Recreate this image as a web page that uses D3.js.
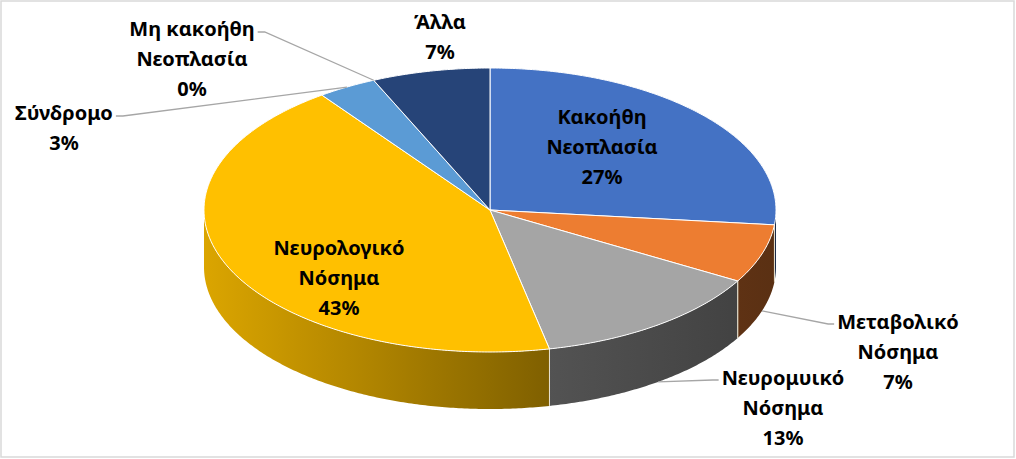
<!DOCTYPE html>
<html>
<head>
<meta charset="utf-8">
<script src="https://cdn.jsdelivr.net/npm/d3@7"></script>
<style>
  html, body { margin: 0; padding: 0; background: #fff; }
  svg { display: block; }
  .lbl { font-family: "Noto Sans", sans-serif; font-weight: bold; font-size: 20px; fill: #000; }
</style>
</head>
<body>
<div id="chart"></div>
<script>
// Pie data (counts), clockwise from 12 o'clock
const categories = ['Κακοήθη Νεοπλασία', 'Μεταβολικό Νόσημα', 'Νευρομυικό Νόσημα',
    'Νευρολογικό Νόσημα', 'Σύνδρομο', 'Μη κακοήθη Νεοπλασία', 'Άλλα'];
const values = [8, 2, 4, 13, 1, 0, 2];
const colors = ['#4472C4', '#ED7D31', '#A5A5A5', '#FFC000', '#5B9BD5', '#70AD47', '#264478'];

// label placement (center x, first line y) and leader line side
const labelLayout = {
    'Κακοήθη Νεοπλασία':    { x: 602, y: 117, leader: null },
    'Μεταβολικό Νόσημα':    { x: 898, y: 322, leader: 'left' },
    'Νευρομυικό Νόσημα':    { x: 783, y: 378, leader: 'left' },
    'Νευρολογικό Νόσημα':   { x: 339, y: 248, leader: null },
    'Σύνδρομο':             { x: 64,  y: 113, leader: 'right' },
    'Μη κακοήθη Νεοπλασία': { x: 192, y: 29,  leader: 'right' },
    'Άλλα':                 { x: 440, y: 22,  leader: null }
};

const width = 1016, height = 459;
const cx = 490, cy = 210, rx = 286, ry = 142, depth = 57;
const lineH = 30;

const svg = d3.select('#chart').append('svg')
    .attr('width', width)
    .attr('height', height);

// chart frame
svg.append('rect')
    .attr('x', 1).attr('y', 1)
    .attr('width', width - 3).attr('height', height - 3)
    .attr('fill', '#fff')
    .attr('stroke', '#d9d9d9')
    .attr('stroke-width', 1.5);

const total = d3.sum(values);
const arcs = d3.pie().sort(null).startAngle(0).endAngle(2 * Math.PI)(values)
    .map((a, i) => Object.assign(a, { name: categories[i], color: colors[i] }));

// projection of angle on the ellipse
function pt(a, r, z) {
    return [cx + rx * r * Math.sin(a), cy - ry * r * Math.cos(a) + (z || 0)];
}

// shading of the side wall goes from light (left) to dark (right)
const shade = d3.scaleLinear()
    .domain([cx - rx, 548, cx + rx])
    .range([0.86, 0.5, 0.38])
    .clamp(true);

const defs = svg.append('defs');
arcs.forEach((d, i) => {
    const grad = defs.append('linearGradient')
        .attr('id', 'side' + i)
        .attr('gradientUnits', 'userSpaceOnUse')
        .attr('x1', cx - rx).attr('x2', cx + rx)
        .attr('y1', 0).attr('y2', 0);
    const base = d3.rgb(d.color);
    d3.range(0, 1.0001, 0.1).forEach(t => {
        const f = shade(cx - rx + t * 2 * rx);
        grad.append('stop')
            .attr('offset', t)
            .attr('stop-color', d3.rgb(base.r * f, base.g * f, base.b * f).formatHex());
    });
});

// side walls (only the front half shows)
const sides = svg.append('g');
arcs.forEach((d, i) => {
    const a0 = Math.max(d.startAngle, Math.PI / 2);
    const a1 = Math.min(d.endAngle, 3 * Math.PI / 2);
    if (a1 <= a0) return;
    const steps = Math.max(2, Math.ceil((a1 - a0) / 0.01));
    const top = d3.range(steps + 1).map(k => pt(a0 + (a1 - a0) * k / steps, 1, 0));
    const bot = top.map(p => [p[0], p[1] + depth]).reverse();
    sides.append('path')
        .attr('d', d3.line()(top.concat(bot)) + 'Z')
        .attr('fill', 'url(#side' + i + ')')
        .attr('stroke', 'none');
    // light seam at the slice edges on the wall
    [d.startAngle, d.endAngle].forEach(a => {
        if (a > Math.PI / 2 && a < 3 * Math.PI / 2) {
            const p = pt(a, 1, 0);
            sides.append('line')
                .attr('x1', p[0]).attr('y1', p[1])
                .attr('x2', p[0]).attr('y2', p[1] + depth)
                .attr('stroke', '#e8e2d0')
                .attr('stroke-width', 1);
        }
    });
});

// top faces
const tops = svg.append('g');
arcs.forEach(d => {
    if (d.endAngle - d.startAngle <= 0) return;
    const steps = Math.max(2, Math.ceil((d.endAngle - d.startAngle) / 0.01));
    const rim = d3.range(steps + 1).map(k => pt(d.startAngle + (d.endAngle - d.startAngle) * k / steps, 1, 0));
    tops.append('path')
        .attr('d', d3.line()([[cx, cy]].concat(rim)) + 'Z')
        .attr('fill', d.color)
        .attr('stroke', '#fff')
        .attr('stroke-width', 1)
        .attr('stroke-linejoin', 'round');
});

// leader lines
const leaders = svg.append('g');
arcs.forEach(d => {
    const lay = labelLayout[d.name];
    if (!lay.leader) return;
    const mid = (d.startAngle + d.endAngle) / 2;
    const front = Math.cos(mid) < 0;
    const anchor = pt(mid, 1, front ? depth : 0);
    const cut = d.name.lastIndexOf(' ');
    const first = cut > 0 ? d.name.slice(0, cut) : d.name;
    // measure the first label line to find its edge
    const probe = svg.append('text').attr('class', 'lbl').text(first);
    const w = probe.node().getComputedTextLength();
    probe.remove();
    let pts;
    if (lay.leader === 'left') {
        const ex = lay.x - w / 2 - 3;
        pts = [anchor, [ex - 6, lay.y + 2], [ex, lay.y + 2]];
    } else {
        const ex = lay.x + w / 2 + 3;
        pts = [[ex, lay.y + 3], [ex + 7, lay.y + 3], anchor];
    }
    leaders.append('path')
        .attr('d', d3.line()(pts))
        .attr('fill', 'none')
        .attr('stroke', '#a6a6a6')
        .attr('stroke-width', 1.3);
});

// data labels
const labels = svg.append('g');
arcs.forEach(d => {
    const lay = labelLayout[d.name];
    const cut = d.name.lastIndexOf(' ');
    const lines = cut > 0 ? [d.name.slice(0, cut), d.name.slice(cut + 1)] : [d.name];
    lines.push(Math.round(d.value / total * 100) + '%');
    const t = labels.append('text')
        .attr('class', 'lbl')
        .attr('text-anchor', 'middle');
    lines.forEach((s, k) => {
        t.append('tspan')
            .attr('x', lay.x)
            .attr('y', lay.y + k * lineH)
            .attr('dy', '0.35em')
            .text(s);
    });
});
</script>
</body>
</html>
